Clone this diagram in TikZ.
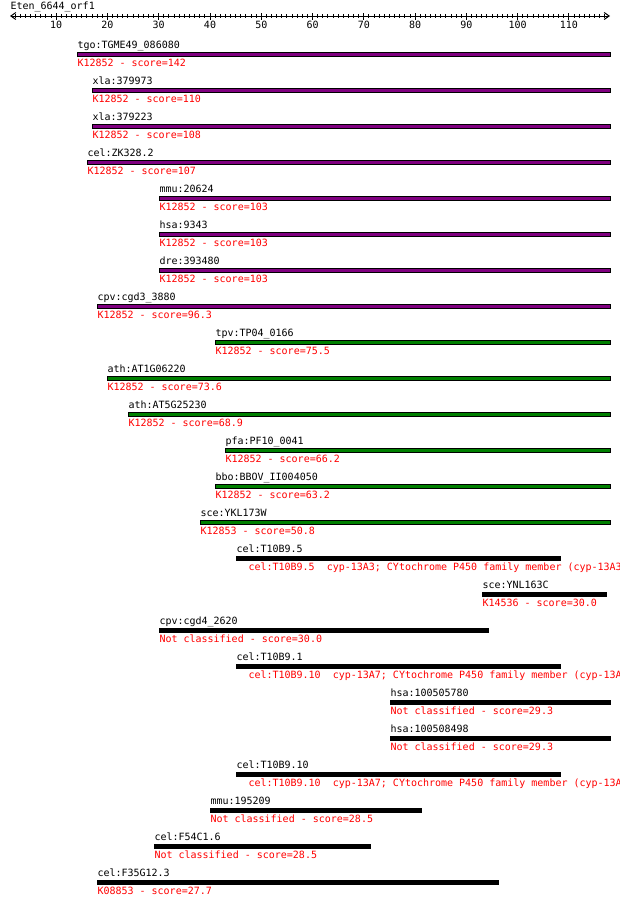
\documentclass[tikz,border=0pt]{standalone}
\usepackage{fontspec}
\setmainfont{DejaVu Sans Mono}
\usepackage{tikz}
\usetikzlibrary{arrows.meta}

\definecolor{kopurple}{RGB}{128,0,128}
\definecolor{kogreen}{RGB}{0,128,0}

\begin{document}
\begin{tikzpicture}[x=1pt, y=-1pt,
					line width=1pt,
					font=\fontsize{10}{12}\selectfont,
					every node/.style={inner sep=0pt},
					gene/.style={anchor=base west},
					hit/.style={anchor=base west, text=red},
					purplebar/.style={draw=black, fill=kopurple},
					greenbar/.style={draw=black, fill=kogreen},
					blackbar/.style={draw=black, fill=black},
					barb/.tip={Straight Barb[length=5pt, width=7pt]}]

	\useasboundingbox (0,0) rectangle (620,905);

	% query and ruler
	\node[gene] (query) at (10,9.5) {Eten\_6644\_orf1};
	\draw[barb-barb] (10,16) -- (610,16);
	\foreach \i in {2,...,117}
		\draw ({10+(\i-1)*5.1282},14) -- ++(0,4);
	\foreach \i in {10,20,...,110} {
		\draw ({10+(\i-1)*5.1282},13) -- ++(0,7);
		\node[anchor=base] (tick\i) at ({10+(\i-1)*5.1282},28) {\i};
	}

	% K12852 hits
	\draw[purplebar] (77,52.5) rectangle (610,56.5);
	\node[gene] (tgo) at (77,48.5) {tgo:TGME49\_086080};
	\node[hit] (tgok) at (77,66.5) {K12852 - score=142};

	\draw[purplebar] (92,88.5) rectangle (610,92.5);
	\node[gene] (xlaa) at (92,84.5) {xla:379973};
	\node[hit] (xlaak) at (92,102.5) {K12852 - score=110};

	\draw[purplebar] (92,124.5) rectangle (610,128.5);
	\node[gene] (xlab) at (92,120.5) {xla:379223};
	\node[hit] (xlabk) at (92,138.5) {K12852 - score=108};

	\draw[purplebar] (87,160.5) rectangle (610,164.5);
	\node[gene] (celzk) at (87,156.5) {cel:ZK328.2};
	\node[hit] (celzkk) at (87,174.5) {K12852 - score=107};

	\draw[purplebar] (159,196.5) rectangle (610,200.5);
	\node[gene] (mmua) at (159,192.5) {mmu:20624};
	\node[hit] (mmuak) at (159,210.5) {K12852 - score=103};

	\draw[purplebar] (159,232.5) rectangle (610,236.5);
	\node[gene] (hsaa) at (159,228.5) {hsa:9343};
	\node[hit] (hsaak) at (159,246.5) {K12852 - score=103};

	\draw[purplebar] (159,268.5) rectangle (610,272.5);
	\node[gene] (dre) at (159,264.5) {dre:393480};
	\node[hit] (drek) at (159,282.5) {K12852 - score=103};

	\draw[purplebar] (97,304.5) rectangle (610,308.5);
	\node[gene] (cpva) at (97,300.5) {cpv:cgd3\_3880};
	\node[hit] (cpvak) at (97,318.5) {K12852 - score=96.3};

	\draw[greenbar] (215,340.5) rectangle (610,344.5);
	\node[gene] (tpv) at (215,336.5) {tpv:TP04\_0166};
	\node[hit] (tpvk) at (215,354.5) {K12852 - score=75.5};

	\draw[greenbar] (107,376.5) rectangle (610,380.5);
	\node[gene] (atha) at (107,372.5) {ath:AT1G06220};
	\node[hit] (athak) at (107,390.5) {K12852 - score=73.6};

	\draw[greenbar] (128,412.5) rectangle (610,416.5);
	\node[gene] (athb) at (128,408.5) {ath:AT5G25230};
	\node[hit] (athbk) at (128,426.5) {K12852 - score=68.9};

	\draw[greenbar] (225,448.5) rectangle (610,452.5);
	\node[gene] (pfa) at (225,444.5) {pfa:PF10\_0041};
	\node[hit] (pfak) at (225,462.5) {K12852 - score=66.2};

	\draw[greenbar] (215,484.5) rectangle (610,488.5);
	\node[gene] (bbo) at (215,480.5) {bbo:BBOV\_II004050};
	\node[hit] (bbok) at (215,498.5) {K12852 - score=63.2};

	\draw[greenbar] (200,520.5) rectangle (610,524.5);
	\node[gene] (scea) at (200,516.5) {sce:YKL173W};
	\node[hit] (sceak) at (200,534.5) {K12853 - score=50.8};

	% other hits
	\draw[blackbar] (236,556.5) rectangle (560,560.5);
	\node[gene] (celta) at (236,552.5) {cel:T10B9.5};
	\node[hit] (celtak) at (248,570.5) {cel:T10B9.5\ \ cyp-13A3; CYtochrome P450 family member (cyp-13A3};

	\draw[blackbar] (482,592.5) rectangle (606,596.5);
	\node[gene] (sceb) at (482,588.5) {sce:YNL163C};
	\node[hit] (scebk) at (482,606.5) {K14536 - score=30.0};

	\draw[blackbar] (159,628.5) rectangle (488,632.5);
	\node[gene] (cpvb) at (159,624.5) {cpv:cgd4\_2620};
	\node[hit] (cpvbk) at (159,642.5) {Not classified - score=30.0};

	\draw[blackbar] (236,664.5) rectangle (560,668.5);
	\node[gene] (celtb) at (236,660.5) {cel:T10B9.1};
	\node[hit] (celtbk) at (248,678.5) {cel:T10B9.10\ \ cyp-13A7; CYtochrome P450 family member (cyp-13A};

	\draw[blackbar] (390,700.5) rectangle (610,704.5);
	\node[gene] (hsab) at (390,696.5) {hsa:100505780};
	\node[hit] (hsabk) at (390,714.5) {Not classified - score=29.3};

	\draw[blackbar] (390,736.5) rectangle (610,740.5);
	\node[gene] (hsac) at (390,732.5) {hsa:100508498};
	\node[hit] (hsack) at (390,750.5) {Not classified - score=29.3};

	\draw[blackbar] (236,772.5) rectangle (560,776.5);
	\node[gene] (celtc) at (236,768.5) {cel:T10B9.10};
	\node[hit] (celtck) at (248,786.5) {cel:T10B9.10\ \ cyp-13A7; CYtochrome P450 family member (cyp-13A};

	\draw[blackbar] (210,808.5) rectangle (421,812.5);
	\node[gene] (mmub) at (210,804.5) {mmu:195209};
	\node[hit] (mmubk) at (210,822.5) {Not classified - score=28.5};

	\draw[blackbar] (154,844.5) rectangle (370,848.5);
	\node[gene] (celf) at (154,840.5) {cel:F54C1.6};
	\node[hit] (celfk) at (154,858.5) {Not classified - score=28.5};

	\draw[blackbar] (97,880.5) rectangle (498,884.5);
	\node[gene] (celg) at (97,876.5) {cel:F35G12.3};
	\node[hit] (celgk) at (97,894.5) {K08853 - score=27.7};
\end{tikzpicture}
\end{document}
